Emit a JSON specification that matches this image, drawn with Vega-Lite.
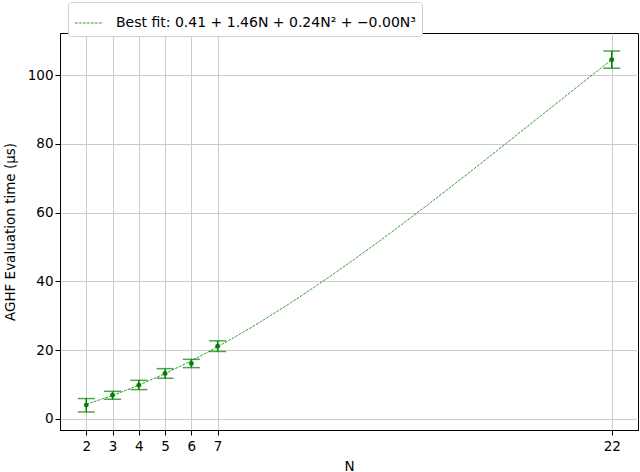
{
  "$schema": "https://vega.github.io/schema/vega-lite/v6.json",
  "width": 578,
  "height": 397,
  "autosize": "none",
  "padding": {"left": 60, "top": 33, "right": 2, "bottom": 42},
  "background": "white",
  "config": {
    "view": {"stroke": "black", "strokeWidth": 1},
    "font": "DejaVu Sans",
    "axis": {
      "labelFont": "DejaVu Sans",
      "titleFont": "DejaVu Sans",
      "labelFontSize": 13.5,
      "titleFontSize": 13.5,
      "titleFontWeight": "normal",
      "labelColor": "black",
      "titleColor": "black",
      "domainColor": "black",
      "tickColor": "black",
      "tickSize": 5,
      "gridColor": "#cbcbcb",
      "gridWidth": 1
    }
  },
  "datasets": {
    "pts": [
      {"N": 2, "t": 4.0, "lo": 2.0, "hi": 5.9},
      {"N": 3, "t": 6.9, "lo": 5.7, "hi": 8.0},
      {"N": 4, "t": 9.8, "lo": 8.5, "hi": 11.2},
      {"N": 5, "t": 13.2, "lo": 11.8, "hi": 14.6},
      {"N": 6, "t": 16.1, "lo": 14.9, "hi": 17.3},
      {"N": 7, "t": 21.1, "lo": 19.6, "hi": 22.7},
      {"N": 22, "t": 104.5, "lo": 102.0, "hi": 107.0}
    ],
    "fit": [
      {"N": 2, "fit": 4.26}, {"N": 3, "fit": 6.84}, {"N": 4, "fit": 9.82},
      {"N": 5, "fit": 13.19}, {"N": 6, "fit": 16.91}, {"N": 7, "fit": 20.97},
      {"N": 8, "fit": 25.33}, {"N": 9, "fit": 29.96}, {"N": 10, "fit": 34.86},
      {"N": 11, "fit": 39.99}, {"N": 12, "fit": 45.32}, {"N": 13, "fit": 50.83},
      {"N": 14, "fit": 56.5}, {"N": 15, "fit": 62.3}, {"N": 16, "fit": 68.21},
      {"N": 17, "fit": 74.2}, {"N": 18, "fit": 80.25}, {"N": 19, "fit": 86.33},
      {"N": 20, "fit": 92.41}, {"N": 21, "fit": 98.48}, {"N": 22, "fit": 104.5}
    ]
  },
  "encoding": {
    "x": {
      "field": "N", "type": "quantitative",
      "scale": {"domain": [1, 23], "nice": false, "zero": false},
      "axis": {"values": [2, 3, 4, 5, 6, 7, 22], "title": "N", "labelPadding": 4, "titleY": 36, "titleBaseline": "middle"}
    }
  },
  "layer": [
    {
      "data": {"name": "fit"},
      "transform": [{"calculate": "'Best fit: 0.41 + 1.46N + 0.24N² + −0.00N³'", "as": "series"}],
      "mark": {"type": "line", "strokeWidth": 0.8, "strokeDash": [2.8, 1.2], "interpolate": "monotone"},
      "encoding": {
        "y": {
          "field": "fit", "type": "quantitative",
          "scale": {"domain": [-3.25, 112.25], "nice": false, "zero": false},
          "axis": {"values": [0, 20, 40, 60, 80, 100], "title": "AGHF Evaluation time (μs)", "titleX": -50, "titleBaseline": "middle"}
        },
        "color": {
          "field": "series", "type": "nominal",
          "scale": {"range": ["green"]},
          "legend": {
            "title": null,
            "orient": "none",
            "legendX": 8,
            "legendY": -31,
            "fillColor": "white",
            "strokeColor": "#d0d0d0",
            "cornerRadius": 3,
            "padding": 6,
            "symbolType": "stroke",
            "symbolStrokeWidth": 0.8,
            "symbolDash": [2.8, 1.2],
            "symbolSize": 800,
            "labelFont": "DejaVu Sans",
            "labelFontSize": 14,
            "labelLimit": 500,
            "labelColor": "black",
            "labelOffset": 12
          }
        }
      }
    },
    {
      "data": {"name": "pts"},
      "mark": {"type": "rule", "color": "green", "strokeWidth": 1.5},
      "encoding": {
        "y": {"field": "lo", "type": "quantitative"},
        "y2": {"field": "hi"}
      }
    },
    {
      "data": {"name": "pts"},
      "mark": {"type": "tick", "orient": "horizontal", "color": "green", "size": 17, "thickness": 1.5},
      "encoding": {"y": {"field": "lo", "type": "quantitative"}}
    },
    {
      "data": {"name": "pts"},
      "mark": {"type": "tick", "orient": "horizontal", "color": "green", "size": 17, "thickness": 1.5},
      "encoding": {"y": {"field": "hi", "type": "quantitative"}}
    },
    {
      "data": {"name": "pts"},
      "mark": {"type": "circle", "color": "green", "size": 24, "opacity": 1},
      "encoding": {"y": {"field": "t", "type": "quantitative"}}
    }
  ]
}
